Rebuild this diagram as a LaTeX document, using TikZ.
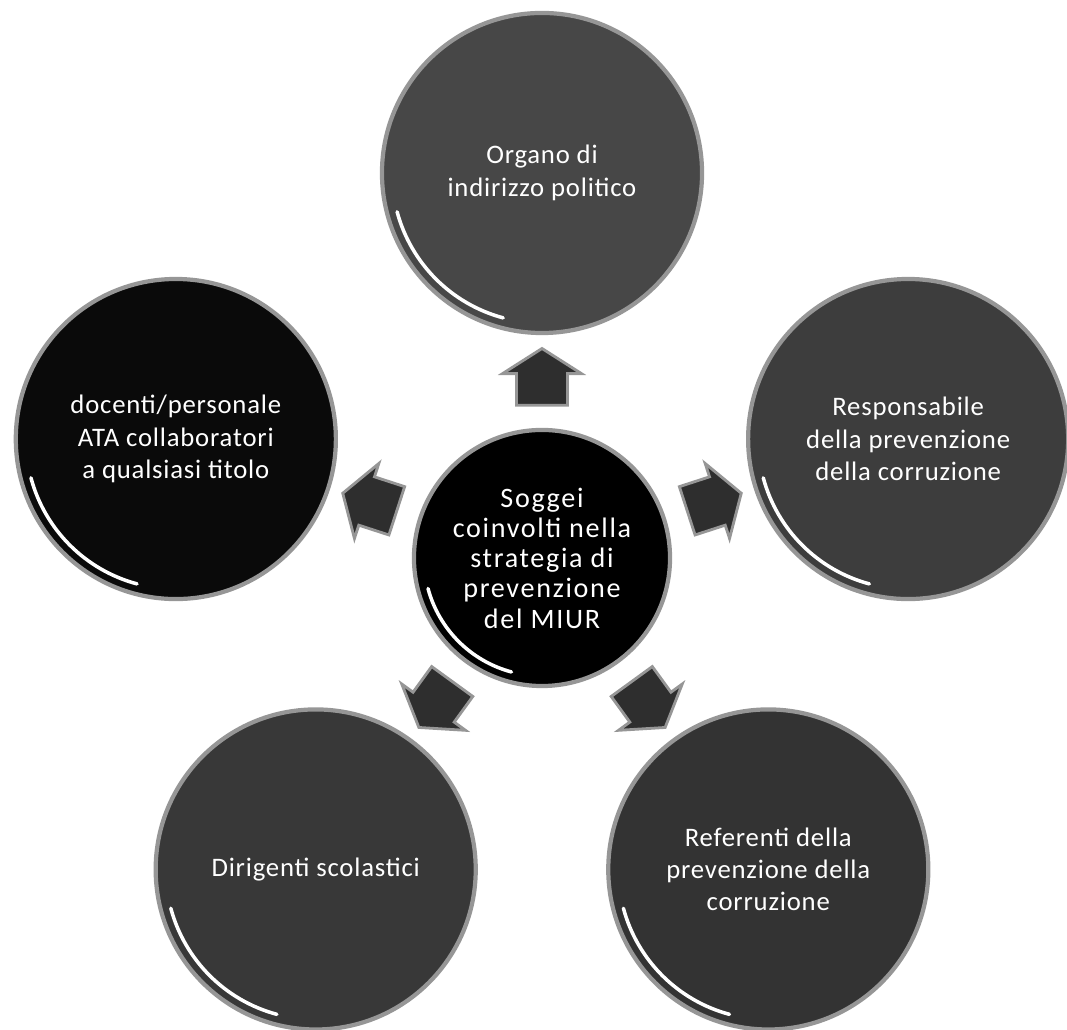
\documentclass[tikz,border=0pt]{standalone}
\usepackage{fontspec}
\setmainfont{Carlito}
\usetikzlibrary{positioning,calc,shapes.arrows}
\definecolor{rimColor}{RGB}{150,150,150}
\tikzset{
    hub/.style={
        circle,
        draw=rimColor,
        line width=3pt,
        fill=black,
        minimum size=6.4cm,
        text=white,
        align=center,
        font=\fontsize{20}{21.5}\selectfont\addfontfeatures{LetterSpace=6}
    },
    bubble/.style={
        circle,
        draw=rimColor,
        line width=3pt,
        minimum size=8cm,
        text=white,
        align=center,
        font=\fontsize{19}{23}\selectfont\addfontfeatures{LetterSpace=3}
    },
    bigarrow/.style={
        single arrow,
        draw=rimColor,
        line width=2pt,
        fill=black!82,
        minimum height=1.42cm,
        minimum width=1.95cm,
        single arrow head extend=0.35cm,
        single arrow tip angle=115,
        inner xsep=0pt,
        inner ysep=0.6cm
    },
    shine/.style={white, line width=2.5pt, line cap=round}
}

\begin{document}
\begin{tikzpicture}[x=0.025cm, y=0.025cm]
    \useasboundingbox (0,0) rectangle (1067,1030);
    \node[hub] (Hub) at (542,472) {Soggei\\coinvolti nella\\strategia di\\prevenzione\\del MIUR};
    \draw[shine] ($(Hub)+(195:118)$) arc (195:255:118);

    % cerchi esterni e frecce
    \foreach \ang/\name/\shade/\txt in {
        90/Organo/72/{Organo di\\indirizzo politico},
        162/Docenti/96/{docenti/personale\\ATA collaboratori\\a qualsiasi titolo},
        234/Dirigenti/78/{Dirigenti scolastici},
        306/Referenti/80/{Referenti della\\prevenzione della\\corruzione},
        18/Responsabile/76/{Responsabile\\della prevenzione\\della corruzione}}{
        \node[bubble, fill=black!\shade] (\name) at ($(Hub)+(\ang:385)$) {\txt};
        \draw[shine] ($(\name)+(195:150)$) arc (195:255:150);
        \node[bigarrow, rotate=\ang] (Arr\name) at ($(Hub)+(\ang:173)$) {};
    }
\end{tikzpicture}
\end{document}
